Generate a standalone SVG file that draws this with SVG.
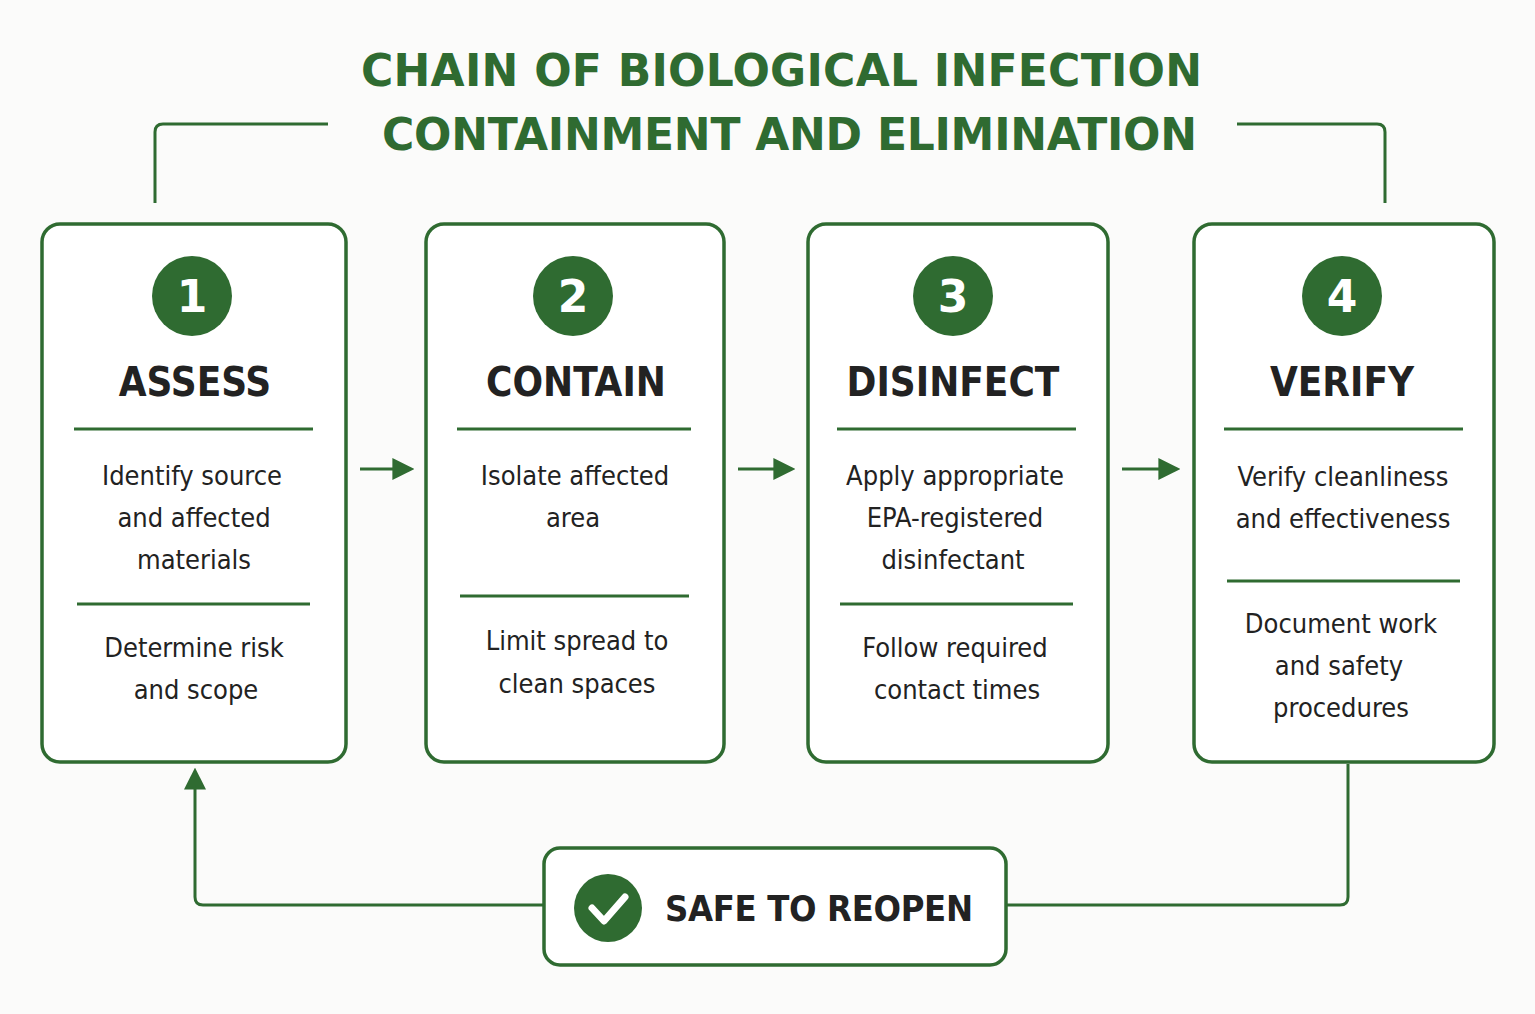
<svg xmlns="http://www.w3.org/2000/svg" width="1535" height="1014" viewBox="0 0 1535 1014">
<style>
.box{fill:#fff;stroke:#2f6b31;stroke-width:3.5}
.ln{stroke:#2f6b31;stroke-width:3;fill:none}
.num{fill:#2f6b31}
.nt{font-family:"DejaVu Sans",sans-serif;font-weight:bold;font-size:44px;fill:#fff;text-anchor:middle}
.h{font-family:"DejaVu Sans Condensed",sans-serif;font-weight:bold;font-size:40px;fill:#222;text-anchor:middle}
.t{font-family:"DejaVu Sans Condensed",sans-serif;font-size:27px;fill:#222;text-anchor:middle}
.ti{font-family:"DejaVu Sans",sans-serif;font-weight:bold;font-size:44px;fill:#2f6b31;text-anchor:middle;letter-spacing:1px}
</style>
<defs><marker id="ah" viewBox="0 0 10 10" refX="8" refY="5" markerUnits="userSpaceOnUse" markerWidth="22" markerHeight="24" orient="auto"><path d="M0,0L10,5L0,10z" fill="#2f6b31"/></marker></defs>
<rect width="1535" height="1014" fill="#fbfbfa"/>
<text class="ti" x="782" y="86" textLength="842">CHAIN OF BIOLOGICAL INFECTION</text>
<text class="ti" x="790" y="150" textLength="816">CONTAINMENT AND ELIMINATION</text>
<g id="connectors">
<path class="ln" d="M155,203V132Q155,124 163,124H328"/>
<path class="ln" d="M1237,124H1377Q1385,124 1385,132V203"/>
<path class="ln" d="M360,469H410" marker-end="url(#ah)" stroke-width="4"/>
<path class="ln" d="M738,469H791" marker-end="url(#ah)" stroke-width="4"/>
<path class="ln" d="M1122,469H1176" marker-end="url(#ah)" stroke-width="4"/>
<path class="ln" d="M1348,764V897Q1348,905 1340,905H1007"/>
<path class="ln" d="M544,905H203Q195,905 195,897V772" marker-end="url(#ah)" stroke-width="3.5"/>
</g>
<g id="n1"><rect class="box" x="42" y="224" width="304" height="538" rx="18"/><circle class="num" cx="192" cy="296" r="40"/><text class="nt" x="192" y="312">1</text><text class="h" x="195" y="396">ASSESS</text><path class="ln" d="M74,429H313M77,604H310"/><text class="t" x="192" y="485">Identify source</text><text class="t" x="194" y="527">and affected</text><text class="t" x="194" y="569">materials</text><text class="t" x="194" y="657">Determine risk</text><text class="t" x="196" y="699">and scope</text></g>
<g id="n2"><rect class="box" x="426" y="224" width="298" height="538" rx="18"/><circle class="num" cx="573" cy="296" r="40"/><text class="nt" x="573" y="312">2</text><text class="h" x="576" y="396">CONTAIN</text><path class="ln" d="M457,429H691M460,596H689"/><text class="t" x="575" y="485">Isolate affected</text><text class="t" x="573" y="527">area</text><text class="t" x="577" y="650">Limit spread to</text><text class="t" x="577" y="693">clean spaces</text></g>
<g id="n3"><rect class="box" x="808" y="224" width="300" height="538" rx="18"/><circle class="num" cx="953" cy="296" r="40"/><text class="nt" x="953" y="312">3</text><text class="h" x="953" y="396">DISINFECT</text><path class="ln" d="M837,429H1076M840,604H1073"/><text class="t" x="955" y="485">Apply appropriate</text><text class="t" x="955" y="527">EPA-registered</text><text class="t" x="953" y="569">disinfectant</text><text class="t" x="955" y="657">Follow required</text><text class="t" x="957" y="699">contact times</text></g>
<g id="n4"><rect class="box" x="1194" y="224" width="300" height="538" rx="18"/><circle class="num" cx="1342" cy="296" r="40"/><text class="nt" x="1342" y="312">4</text><text class="h" x="1342" y="396">VERIFY</text><path class="ln" d="M1224,429H1463M1227,581H1460"/><text class="t" x="1343" y="486">Verify cleanliness</text><text class="t" x="1343" y="528">and effectiveness</text><text class="t" x="1341" y="633">Document work</text><text class="t" x="1339" y="675">and safety</text><text class="t" x="1341" y="717">procedures</text></g>
<g id="safe"><rect class="box" x="544" y="848" width="462" height="117" rx="16"/><circle class="num" cx="608" cy="908" r="34"/><path d="M592,908L604,921L625,897" stroke="#fff" stroke-width="7" fill="none" stroke-linecap="round" stroke-linejoin="round"/><text x="665" y="921" font-family="DejaVu Sans Condensed,sans-serif" font-weight="bold" font-size="36" fill="#222" textLength="308">SAFE TO REOPEN</text></g>
</svg>
